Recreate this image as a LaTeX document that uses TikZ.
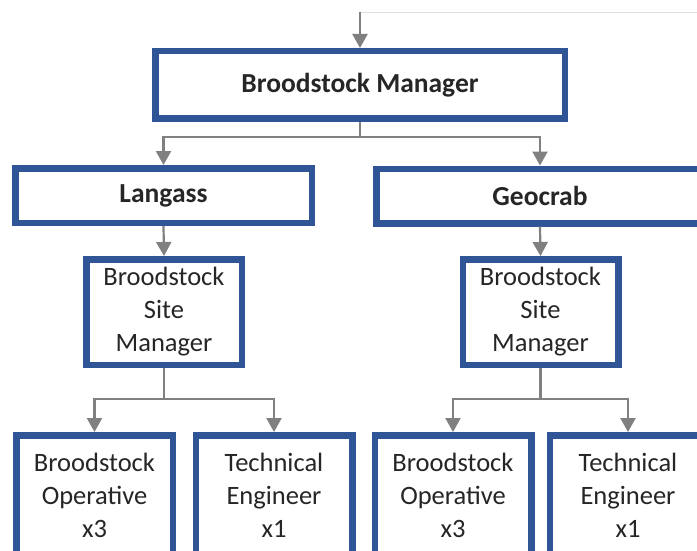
\documentclass[tikz,border=0pt]{standalone}
\usepackage{fontspec}
\setmainfont{Carlito}
\usetikzlibrary{arrows.meta}
\definecolor{boxblue}{RGB}{47,85,151}
\definecolor{linkgray}{RGB}{128,128,128}
\tikzset{
  box/.style={rectangle, draw=boxblue, line width=6.5pt, fill=white, inner sep=0pt,
    align=center, text=black!85, font=\fontsize{26.5}{33}\selectfont},
  unitbox/.style={box, font=\bfseries\fontsize{27.5}{33}\selectfont},
  link/.style={draw=linkgray, line width=2.2pt, -{Triangle[width=15pt,length=14pt]}},
}
\begin{document}
\begin{tikzpicture}[x=1pt, y=-1pt]
  \useasboundingbox (0,0) rectangle (697,551);
  \clip (0,0) rectangle (697,551);

  \node (bm) [unitbox, minimum width=409.5pt, minimum height=67.5pt] at (360,85) {Broodstock Manager};
  \node (langass) [unitbox, minimum width=296.5pt, minimum height=54.5pt] at (163.5,195.5) {Langass};
  \node (geocrab) [unitbox, minimum width=327.5pt, minimum height=54.5pt] at (540,196) {Geocrab};

  \node (sm1) [box, minimum width=155.5pt, minimum height=105.5pt] at (164,312) {Broodstock\\Site\\Manager};
  \node (sm2) [box, minimum width=155.5pt, minimum height=105.5pt] at (540.5,312) {Broodstock\\Site\\Manager};

  \node (op1) [box, minimum width=156.5pt, minimum height=119.5pt] at (94.5,495) {Broodstock\\Operative\\x3};
  \node (te1) [box, minimum width=156.5pt, minimum height=119.5pt] at (274,495) {Technical\\Engineer\\x1};
  \node (op2) [box, minimum width=156.5pt, minimum height=119.5pt] at (453,495) {Broodstock\\Operative\\x3};
  \node (te2) [box, minimum width=156.5pt, minimum height=119.5pt] at (628,495) {Technical\\Engineer\\x1};

  % feed from above
  \coordinate (top) at (360,12);
  \coordinate (topend) at (697,12);
  \draw[draw=black!13, line width=0.8pt] (top) -- (topend);
  \draw[link] (top) -- (bm.north);

  \draw[link] (bm.south) -- ++(0,15) -| (langass.north);
  \draw[link] (bm.south) -- ++(0,15) -| (geocrab.north);
  \draw[link] (langass.south) -- (sm1.north);
  \draw[link] (geocrab.south) -- (sm2.north);

  \draw[link] (sm1.south) -- ++(0,31) -| (op1.north);
  \draw[link] (sm1.south) -- ++(0,31) -| (te1.north);
  \draw[link] (sm2.south) -- ++(0,31) -| (op2.north);
  \draw[link] (sm2.south) -- ++(0,31) -| (te2.north);
\end{tikzpicture}
\end{document}
